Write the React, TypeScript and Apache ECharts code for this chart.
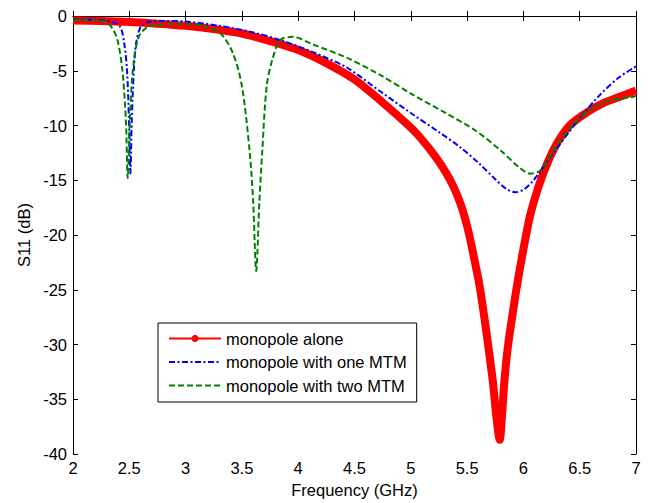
import React, { useEffect, useRef } from "react";
import * as echarts from "echarts";

const xTicks = { min: 2, max: 7, interval: 0.5 };
const yTicks = { min: -40, max: 0, interval: 5 };

const seriesNames = ["monopole alone", "monopole with one MTM", "monopole with two MTM"];

const aloneData: [number, number][] = [
  [2.0, -0.4], [2.25, -0.45], [2.5, -0.55], [2.75, -0.7], [3.0, -0.9], [3.25, -1.2],
  [3.5, -1.6], [3.75, -2.3], [4.0, -3.1], [4.25, -4.3], [4.5, -5.8], [4.75, -7.9],
  [5.0, -10.2], [5.1, -11.3], [5.2, -12.6], [5.3, -14.1], [5.38, -15.6], [5.45, -17.4],
  [5.51, -19.6], [5.56, -22.0], [5.61, -24.6], [5.65, -27.3], [5.69, -30.3], [5.73, -33.5],
  [5.76, -36.6], [5.79, -38.7], [5.81, -36.5], [5.83, -33.5], [5.86, -30.4], [5.9, -27.5],
  [5.94, -24.8], [6.0, -21.3], [6.06, -18.2], [6.13, -15.7], [6.21, -13.5], [6.3, -11.6],
  [6.41, -10.0], [6.55, -8.9], [6.7, -8.0], [6.85, -7.4], [7.0, -6.8],
];

const oneMtmData: [number, number][] = [
  [2.0, -0.3], [2.2, -0.35], [2.35, -0.55], [2.42, -1.0], [2.455, -2.5], [2.48, -5.0],
  [2.497, -9.5], [2.51, -14.4], [2.522, -9.5], [2.54, -5.0], [2.56, -2.5], [2.6, -1.0],
  [2.65, -0.6], [2.8, -0.45], [3.0, -0.5], [3.3, -0.9], [3.6, -1.5], [3.84, -2.2],
  [4.13, -3.3], [4.43, -4.7], [4.73, -6.9], [5.02, -9.0], [5.25, -10.6], [5.44, -12.0],
  [5.6, -13.4], [5.75, -14.9], [5.85, -15.8], [5.93, -16.1], [6.01, -15.8], [6.09, -15.0],
  [6.26, -12.6], [6.48, -9.6], [6.68, -7.2], [6.85, -5.6], [7.0, -4.6],
];

const twoMtmData: [number, number][] = [
  [2.0, -0.35], [2.2, -0.4], [2.3, -0.6], [2.36, -1.3], [2.4, -2.4], [2.44, -5.1],
  [2.47, -9.6], [2.486, -14.8], [2.505, -9.6], [2.53, -5.1], [2.58, -2.0], [2.66, -1.0],
  [2.77, -0.8], [3.0, -0.7], [3.15, -0.9], [3.31, -1.6], [3.42, -3.4], [3.5, -6.4],
  [3.57, -12.5], [3.6, -17.0], [3.627, -23.3], [3.655, -17.0], [3.68, -12.5], [3.72, -6.4],
  [3.77, -4.0], [3.84, -2.2], [3.95, -1.9], [4.13, -2.6], [4.43, -3.8], [4.73, -5.4],
  [5.02, -7.2], [5.3, -8.8], [5.58, -10.5], [5.8, -12.3], [5.96, -13.8], [6.06, -14.4],
  [6.15, -14.1], [6.32, -11.5], [6.5, -9.3], [6.74, -7.8], [6.97, -7.4], [7.0, -7.3],
];

const FONT = "'Liberation Sans', Arial, Helvetica, sans-serif";
const FS = 16.5;

export default function App() {
  const ref = useRef<HTMLDivElement>(null);
  useEffect(() => {
    if (!ref.current) return;
    const chart = echarts.init(ref.current, undefined, { renderer: "svg" });
    const axisLine = { show: true, lineStyle: { color: "#000", width: 1 } };
    const tick = { show: true, inside: true, length: 5, lineStyle: { color: "#000" } };
    const hidden = { color: "transparent", borderWidth: 0, opacity: 0 };
    chart.setOption({
      animation: false,
      backgroundColor: "#fff",
      textStyle: { fontFamily: FONT },
      grid: { left: 73, top: 16, width: 563, height: 439, containLabel: false },
      legend: {
        orient: "vertical",
        left: 158,
        top: 323,
        backgroundColor: "#fff",
        borderColor: "#000",
        borderWidth: 1,
        borderRadius: 0,
        padding: [7, 10, 8, 10],
        itemGap: 6.5,
        itemWidth: 52,
        itemHeight: 9,
        textStyle: { fontSize: FS, color: "#000", fontFamily: FONT },
        data: [
          { name: seriesNames[0], lineStyle: { width: 2 } },
          { name: seriesNames[1], itemStyle: hidden },
          { name: seriesNames[2], itemStyle: hidden },
        ],
      },
      xAxis: [
        {
          type: "value",
          min: xTicks.min,
          max: xTicks.max,
          interval: xTicks.interval,
          position: "bottom",
          name: "Frequency (GHz)",
          nameLocation: "middle",
          nameGap: 27,
          nameTextStyle: { fontSize: FS, color: "#000", fontFamily: FONT },
          axisLine,
          axisTick: tick,
          splitLine: { show: false },
          axisLabel: { fontSize: FS, color: "#000", margin: 5, fontFamily: FONT },
        },
        {
          type: "value",
          min: xTicks.min,
          max: xTicks.max,
          interval: xTicks.interval,
          position: "top",
          axisLine,
          axisTick: tick,
          splitLine: { show: false },
          axisLabel: { show: false },
        },
      ],
      yAxis: [
        {
          type: "value",
          min: yTicks.min,
          max: yTicks.max,
          interval: yTicks.interval,
          position: "left",
          name: "S11 (dB)",
          nameLocation: "middle",
          nameGap: 35,
          nameTextStyle: { fontSize: FS, color: "#000", fontFamily: FONT },
          axisLine,
          axisTick: tick,
          splitLine: { show: false },
          axisLabel: { fontSize: FS, color: "#000", margin: 6, fontFamily: FONT },
        },
        {
          type: "value",
          min: yTicks.min,
          max: yTicks.max,
          interval: yTicks.interval,
          position: "right",
          axisLine,
          axisTick: tick,
          splitLine: { show: false },
          axisLabel: { show: false },
        },
      ],
      series: [
        {
          name: seriesNames[0],
          type: "line",
          data: aloneData,
          smooth: 0.3,
          symbol: "circle",
          symbolSize: 8,
          showSymbol: false,
          color: "#ff0000",
          lineStyle: { color: "#ff0000", width: 8 },
          z: 2,
        },
        {
          name: seriesNames[1],
          type: "line",
          data: oneMtmData,
          smooth: 0.3,
          symbol: "none",
          color: "#0000ff",
          lineStyle: { color: "#0000ff", width: 2, type: [6, 2.5, 2, 2.5] },
          z: 3,
        },
        {
          name: seriesNames[2],
          type: "line",
          data: twoMtmData,
          smooth: 0.3,
          symbol: "none",
          color: "#008000",
          lineStyle: { color: "#008000", width: 2, type: [6, 3] },
          z: 4,
        },
      ],
    });
    return () => chart.dispose();
  }, []);
  return (
    <div
      ref={ref}
      style={{ position: "absolute", left: 0, top: 0, width: 649, height: 503 }}
    />
  );
}
